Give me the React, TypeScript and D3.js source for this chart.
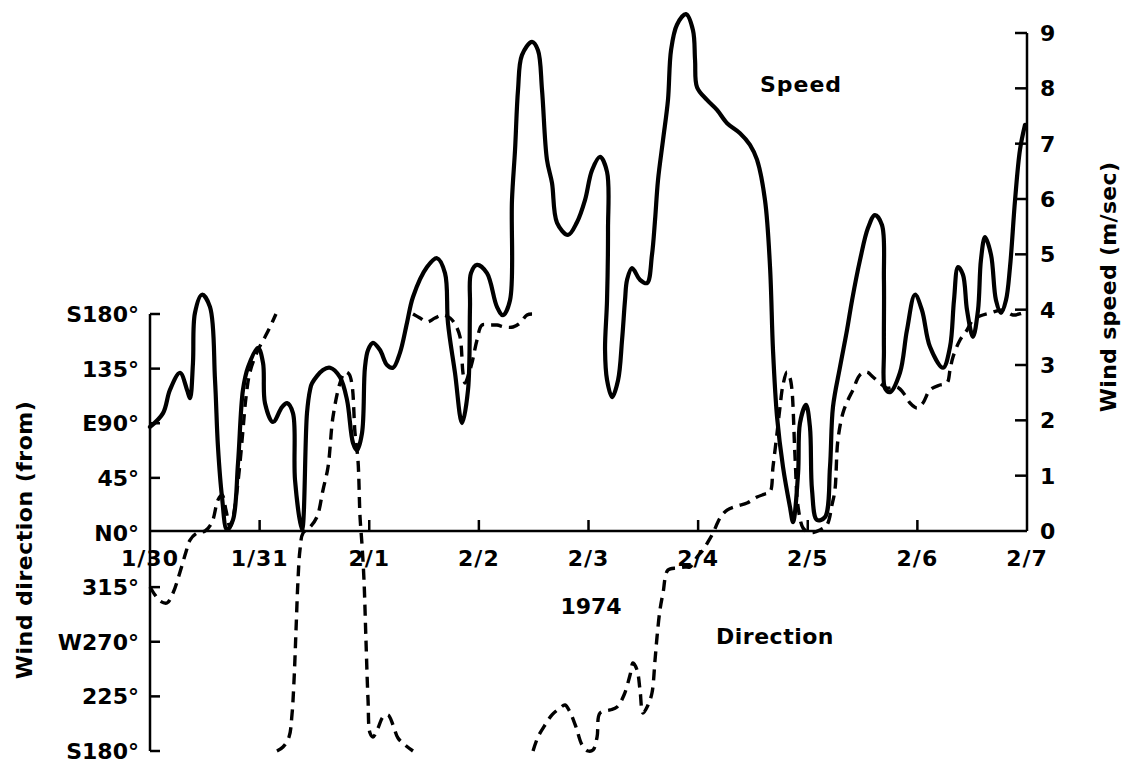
import React from "react";
import * as d3 from "d3";

// x: days after 1/30 1974 (0 = 1/30, 8 = 2/7)
const dayLabels = ["1/30", "1/31", "2/1", "2/2", "2/3", "2/4", "2/5", "2/6", "2/7"];
const speedTicks = [0, 1, 2, 3, 4, 5, 6, 7, 8, 9];
const dirTicks = [-180, -135, -90, -45, 0, 45, 90, 135, 180];
const dirTickLabels = ["S180°", "225°", "W270°", "315°", "N0°", "45°", "E90°", "135°", "S180°"];

// Wind speed (m/sec)
const speedDays = [
  0, 0.119, 0.182, 0.274, 0.338, 0.365, 0.392, 0.41, 0.474, 0.547, 0.593, 0.62, 0.657, 0.702, 0.757,
  0.803, 0.848, 0.894, 0.985, 1.031, 1.049, 1.122, 1.204, 1.25, 1.304, 1.323, 1.387, 1.432, 1.46,
  1.478, 1.578, 1.642, 1.733, 1.797, 1.852, 1.888, 1.934, 1.961, 1.989, 2.034, 2.098, 2.162, 2.217,
  2.28, 2.344, 2.399, 2.527, 2.618, 2.691, 2.718, 2.782, 2.846, 2.901, 2.919, 2.928, 2.983, 3.074,
  3.165, 3.22, 3.284, 3.302, 3.33, 3.357, 3.393, 3.485, 3.539, 3.576, 3.621, 3.667, 3.713, 3.813,
  3.895, 3.968, 4.032, 4.105, 4.169, 4.178, 4.169, 4.151, 4.169, 4.215, 4.27, 4.306, 4.333, 4.352,
  4.397, 4.47, 4.534, 4.579, 4.607, 4.634, 4.68, 4.725, 4.753, 4.807, 4.889, 4.953, 4.972, 4.99,
  5.081, 5.172, 5.264, 5.382, 5.473, 5.537, 5.61, 5.656, 5.683, 5.72, 5.774, 5.838, 5.866, 5.912,
  5.929, 5.984, 6.02, 6.039, 6.084, 6.157, 6.203, 6.23, 6.294, 6.358, 6.404, 6.477, 6.55, 6.613,
  6.677, 6.695, 6.695, 6.705, 6.75, 6.841, 6.905, 6.978, 7.042, 7.115, 7.234, 7.298, 7.334, 7.371,
  7.416, 7.453, 7.507, 7.553, 7.58, 7.617, 7.672, 7.717, 7.763, 7.808, 7.845, 7.891, 7.936, 7.982,
];
const speedValues = [
  1.88, 2.13, 2.55, 2.86, 2.55, 2.4, 3.04, 3.94, 4.27, 4.05, 2.73, 1.52, 0.61, 0.02, 0.2,
  1.23, 2.55, 2.96, 3.31, 3.04, 2.31, 1.97, 2.24, 2.31, 2.13, 0.92, 0.02, 2.13, 2.55,
  2.67, 2.91, 2.95, 2.78, 2.37, 1.59, 1.46, 1.77, 2.96, 3.27, 3.4, 3.27, 3.0, 2.95,
  3.22, 3.76, 4.23, 4.77, 4.93, 4.66, 3.76, 2.86, 1.95, 2.55, 4.05, 4.66, 4.81, 4.66,
  4.05, 3.9, 4.17, 5.98, 6.89, 7.97, 8.6, 8.84, 8.69, 7.97, 6.71, 6.29, 5.57, 5.35,
  5.58, 5.98, 6.52, 6.76, 6.49, 5.44, 4.17, 3.27, 2.73, 2.42, 2.73, 3.45, 4.17, 4.54,
  4.75, 4.54, 4.48, 4.99, 5.62, 6.34, 7.07, 7.79, 8.69, 9.15, 9.34, 9.05, 8.51, 8.02,
  7.79, 7.61, 7.37, 7.19, 6.98, 6.71, 5.98, 4.77, 3.27, 2.06, 1.16, 0.43, 0.16, 1.05,
  1.95, 2.28, 1.88, 0.74, 0.2, 0.25, 1.16, 2.24, 2.96, 3.63, 4.17, 4.9, 5.48, 5.71,
  5.53, 4.54, 3.27, 2.58, 2.51, 2.86, 3.63, 4.27, 3.99, 3.33, 2.95, 3.33, 4.17, 4.77,
  4.63, 3.99, 3.51, 3.99, 4.9, 5.31, 4.99, 4.17, 3.94, 4.17, 4.77, 5.98, 6.89, 7.34,
];

// Wind direction (from), degrees east of north (west negative); null = break where it wraps past S180°
const dirDays = [
  0, 0.046, 0.091, 0.155, 0.21, 0.274, 0.328, 0.365, 0.429, 0.502, 0.566, 0.62, 0.657, 0.693, 0.73,
  0.757, 0.794, 0.821, 0.848, 0.876, 0.912, 0.985, 1.049, 1.095, 1.149, null,
  1.158, 1.213, 1.268, 1.295, 1.314, 1.332, 1.35, 1.368, 1.396, 1.46, 1.523, 1.578, 1.624, 1.669,
  1.733, 1.779, 1.815, 1.843, 1.87, 1.897, 1.916, 1.934, 1.952, 1.97, 1.989, 2.007, 2.034, 2.08,
  2.125, 2.171, 2.217, 2.262, 2.326, 2.399, null,
  2.399, 2.463, 2.527, 2.6, 2.673, 2.737, 2.782, 2.828, 2.855, 2.874, 2.91, 2.937, 2.983, 3.028,
  3.101, 3.165, 3.238, 3.311, 3.375, 3.439, 3.485, null,
  3.494, 3.539, 3.603, 3.667, 3.74, 3.786, 3.831, 3.886, 3.941, 3.995, 4.041, 4.078, 4.105, 4.196,
  4.26, 4.324, 4.379, 4.406, 4.443, 4.47, 4.497, 4.543, 4.579, 4.607, 4.625, 4.652, 4.68, 4.725,
  4.807, 4.88, 4.926, 4.99, 5.045, 5.09, 5.136,
  5.2, 5.264, 5.355, 5.446, 5.537, 5.61, 5.656, 5.683, 5.72, 5.747, 5.774, 5.811, 5.838, 5.856,
  5.884, 5.912, 5.957, 6.002, 6.048, 6.111, 6.175, 6.221, 6.248, 6.275, 6.321, 6.367, 6.412, 6.476,
  6.54, 6.595, 6.659, 6.723, 6.814, 6.887, 6.933, 6.997, 7.051, 7.115, 7.206, 7.27, 7.298, 7.325,
  7.389, 7.453, 7.507, 7.571, 7.662, 7.781, 7.872, 7.963, 8.0,
];
const dirDegrees = [
  -44.9, -51.5, -56.4, -58.1, -49.8, -32.5, -16.1, -6.2, -0.4, 1.2, 8.6, 26.8, 30.9, 18.5, 4.5,
  12.0, 35.0, 57.3, 84.4, 111.6, 132.2, 150.3, 161.1, 169.3, 180, null,
  -180, -176.7, -168.5, -150.3, -121.5, -80.3, -39.1, -14.4, -0.4, 4.5, 12.8, 35.0, 54.0, 95.1,
  123.1, 132.2, 130.6, 121.5, 82.0, 59.7, 12.8, -10.3, -39.1, -88.6, -138, -165.2, -168.5, -161,
  -152, -150.3, -158.6, -169.3, -175, -180, null,
  180, 176.7, 173.4, 176.7, 179.2, 176.7, 171.8, 161.1, 131.4, 123.1, 131.4, 139.7, 158.6, 170.9,
  170.9, 170.9, 169.3, 169.3, 172.6, 179.2, 180, null,
  -180, -168.5, -158.6, -150.3, -144.6, -142.1, -147.9, -160.2, -175, -180, -179.2, -168.5, -148.7, -146.2,
  -143.8, -133.9, -117.4, -107.5, -113.3, -129.7, -148.7, -142.1, -132.2, -105, -86.1, -63.8, -49.8, -30.9,
  -29.2, -28.4, -28.4, -20.2, -14.4, -7.8, -0.4,
  11.9, 18.5, 21.8, 24.3, 29.2, 31.7, 33.4, 54.0, 82.0, 103.4, 121.5, 132.2, 127.3, 117.4,
  62.2, 21.0, 3.7, 0.4, 0, 2.1, 6.2, 22.7, 35.0, 76.2, 98.4, 109.2, 117.4, 129.8,
  132.2, 128.1, 123.1, 119.0, 119.9, 113.3, 106.7, 102.6, 106.7, 117.4, 121.5, 123.1, 133.9, 144.6,
  158.6, 166.8, 175.1, 178.4, 180.8, 183.3, 179.2, 180.8, 181.6,
];

const FONT = "'DejaVu Sans', sans-serif";

export default function App() {
  const x = d3.scaleLinear().domain([0, 8]).range([150, 1027]);
  const ySpeed = d3.scaleLinear().domain([0, 9]).range([531, 33]);
  const yDir = d3.scaleLinear().domain([-180, 180]).range([751, 314]);

  const speedData = speedDays.map((d, i) => ({ d, v: speedValues[i] }));
  const dirData = dirDays.map((d, i) => ({ d, v: dirDegrees[i] }));

  const speedLine = d3
    .line<{ d: number; v: number }>()
    .x((p) => x(p.d))
    .y((p) => ySpeed(p.v))
    .curve(d3.curveCatmullRom.alpha(0.5));

  const dirLine = d3
    .line<{ d: number | null; v: number | null }>()
    .defined((p) => p.d != null && p.v != null)
    .x((p) => x(p.d as number))
    .y((p) => yDir(p.v as number))
    .curve(d3.curveCatmullRom.alpha(0.5));

  const axisY = ySpeed(0);
  const txt = { fontFamily: FONT, fontWeight: 700, fontSize: 22, fill: "#000" } as const;

  return (
    <svg
      width={1130}
      height={765}
      style={{ position: "absolute", left: 0, top: 0, background: "#fff" }}
    >
      <rect x={0} y={0} width={1130} height={765} fill="#fff" />
      {/* left (direction) axis */}
      <line x1={x(0)} x2={x(0)} y1={yDir(180)} y2={yDir(-180)} stroke="#000" strokeWidth={2.5} />
      {dirTicks.map((t, i) => (
        <g key={"dt" + i}>
          {t !== 0 && (
            <line x1={x(0)} x2={x(0) + 10} y1={yDir(t)} y2={yDir(t)} stroke="#000" strokeWidth={2.5} />
          )}
          <text {...txt} x={139} y={yDir(t) + 8} textAnchor="end">
            {dirTickLabels[i]}
          </text>
        </g>
      ))}
      {/* x axis */}
      <line x1={x(0)} x2={x(8)} y1={axisY} y2={axisY} stroke="#000" strokeWidth={2.5} />
      {dayLabels.map((lab, i) => (
        <g key={"xt" + i}>
          {i > 0 && i < 8 && (
            <line x1={x(i)} x2={x(i)} y1={axisY} y2={axisY - 11} stroke="#000" strokeWidth={2.5} />
          )}
          <text {...txt} x={x(i)} y={566} textAnchor="middle" letterSpacing={1}>
            {lab}
          </text>
        </g>
      ))}
      {/* right (speed) axis */}
      <line x1={x(8)} x2={x(8)} y1={ySpeed(9)} y2={axisY} stroke="#000" strokeWidth={2.5} />
      {speedTicks.map((t) => (
        <g key={"st" + t}>
          {t > 0 && (
            <line x1={x(8)} x2={x(8) - 12} y1={ySpeed(t)} y2={ySpeed(t)} stroke="#000" strokeWidth={2.5} />
          )}
          <text {...txt} x={1040} y={ySpeed(t) + 8} textAnchor="start">
            {t}
          </text>
        </g>
      ))}
      {/* series */}
      <path d={speedLine(speedData) || ""} fill="none" stroke="#000" strokeWidth={4.2} strokeLinejoin="round" strokeLinecap="round" />
      <path d={dirLine(dirData as any) || ""} fill="none" stroke="#000" strokeWidth={3.4} strokeDasharray="11 7" />
      {/* labels */}
      <text {...txt} x={801} y={92} textAnchor="middle" letterSpacing={1}>Speed</text>
      <text {...txt} x={775} y={644} textAnchor="middle" letterSpacing={0.5}>Direction</text>
      <text {...txt} x={591} y={614} textAnchor="middle">1974</text>
      <text {...txt} transform="translate(32,540) rotate(-90)" textAnchor="middle" letterSpacing={0.5}>
        Wind direction (from)
      </text>
      <text {...txt} transform="translate(1116,287) rotate(-90)" textAnchor="middle" letterSpacing={0.3}>
        Wind speed (m/sec)
      </text>
    </svg>
  );
}
